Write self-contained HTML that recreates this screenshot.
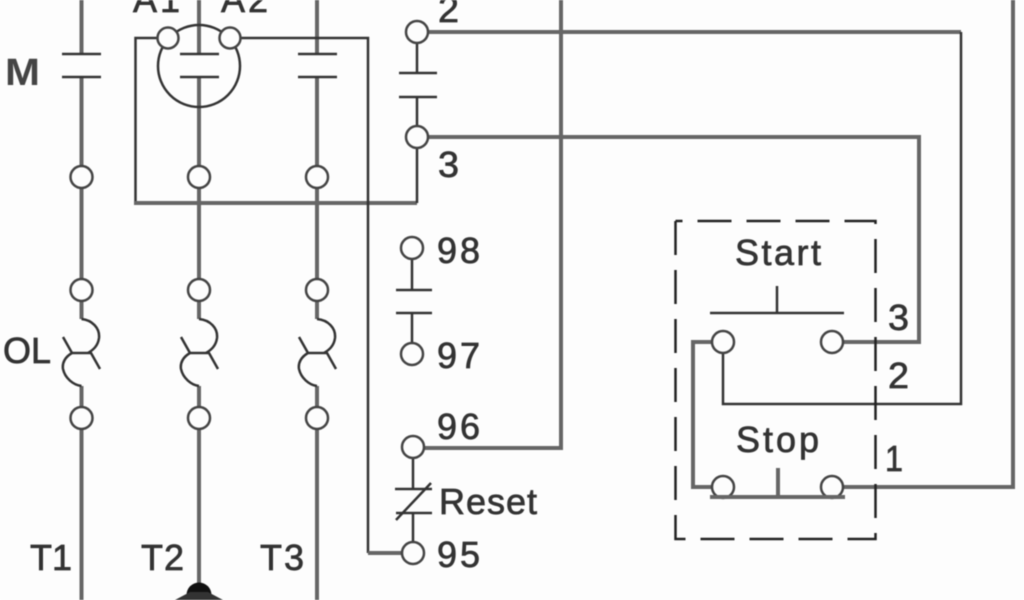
<!DOCTYPE html>
<html><head><meta charset="utf-8"><style>
html,body{margin:0;padding:0;background:#fdfdfd;width:1024px;height:600px;overflow:hidden}
svg{display:block;filter:blur(.45px)}
text{font-family:"Liberation Sans",sans-serif;font-size:36px;fill:#333;stroke:#333;stroke-width:.7}
.n{fill:none;stroke:#666;stroke-width:4}
.t{fill:none;stroke:#333;stroke-width:2.5}
.c{fill:#fdfdfd;stroke:#444;stroke-width:2.5}
</style></head><body>
<svg width="1024" height="600" viewBox="0 0 1024 600" xmlns="http://www.w3.org/2000/svg">
<rect width="1024" height="600" fill="#fdfdfd"/>
<!-- verticals -->
<path class="n" d="M81.5 0V54M81.5 77V319M81.5 386V600M199 0V54M199 77V319M199 386V585M317 0V54M317 77V319M317 386V600"/>
<!-- contactor box -->
<path class="t" d="M157 38H135.500V203"/>
<path class="n" d="M134 203H417"/>
<path class="t" d="M417 203V137"/>
<path class="t" d="M241 38H368V553"/>
<path class="n" d="M368 553H413"/>
<path class="n" d="M417 32H961"/>
<path class="t" d="M961 32V404H723V342"/>
<path class="n" d="M417 137H919V342H832"/>
<path class="n" d="M561 0V448H413"/>
<path class="n" d="M723 342H693V487H723"/>
<path class="n" d="M832 487H1013V0"/>
<path class="t" d="M417 32V73M417 97V137"/>
<path class="t" d="M412 248V291M412 313V354M413 448V489M413 513V553"/>
<!-- contact bars -->
<path class="t" d="M62 54H101M62 77H101M180 54H219M180 77H219M298 54H337M298 77H337M399 73H437M399 97H437M396 290H432M396 313H432M395 489H432M396 513H432"/>
<path class="t" stroke-width="2" d="M396 520L431 483"/>
<circle cx="199" cy="66" r="41" fill="none" stroke="#333" stroke-width="2.500"/>
<!-- fuses -->
<path class="t" d="M81.500 319C92 320 100 328 99 338C98 346 93 350 88 353M63 337L72 353H91L100 369M72 353C65 357 62 363 63 369C65 378 73 385 81.500 386"/>
<path class="t" d="M199 319C210 320 218 328 217 338C216 346 211 350 206 353M181 337L190 353H209L218 369M190 353C183 357 180 363 181 369C183 378 191 385 199 386"/>
<path class="t" d="M317 319C328 320 336 328 335 338C334 346 329 350 324 353M299 337L308 353H327L336 369M308 353C301 357 298 363 299 369C301 378 309 385 317 386"/>
<!-- circles -->
<circle class="c" cx="168" cy="38" r="10.500"/><circle class="c" cx="230" cy="38" r="10.500"/>
<circle class="c" cx="81.500" cy="177" r="11"/><circle class="c" cx="199" cy="177" r="11"/><circle class="c" cx="317" cy="177" r="11"/>
<circle class="c" cx="81.500" cy="290" r="11"/><circle class="c" cx="199" cy="290" r="11"/><circle class="c" cx="317" cy="290" r="11"/>
<circle class="c" cx="81.500" cy="418" r="11"/><circle class="c" cx="199" cy="418" r="11"/><circle class="c" cx="317" cy="418" r="11"/>
<circle class="c" cx="417" cy="32" r="11"/><circle class="c" cx="417" cy="137" r="11"/>
<circle class="c" cx="412" cy="248" r="11"/><circle class="c" cx="412" cy="354" r="11"/>
<circle class="c" cx="413" cy="447" r="11"/><circle class="c" cx="413" cy="553" r="11"/>
<circle class="c" cx="723" cy="342" r="11"/><circle class="c" cx="832" cy="342" r="11"/>
<circle class="c" cx="723" cy="487" r="11"/><circle class="c" cx="832" cy="487" r="11"/>
<!-- start / stop -->
<path class="t" d="M710 313H844M777 286V313"/>
<path d="M710 497H845M778 468V497" fill="none" stroke="#666" stroke-width="4"/>
<!-- dashed box -->
<path d="M675.500 221V539H875.500V221H675.500" fill="none" stroke="#222" stroke-width="2.500" stroke-dasharray="34 15"/>
<!-- blob -->
<circle cx="199" cy="595" r="12.500" fill="#111"/>
<path d="M175 600L190 592H208L223 600Z" fill="#333"/>
<!-- labels -->
<text x="5" y="85" font-weight="bold" textLength="35" lengthAdjust="spacingAndGlyphs" style="font-size:38px;fill:#444;stroke:none">M</text>
<text x="133" y="12" textLength="47" lengthAdjust="spacing">A1</text>
<text x="221" y="12" textLength="47" lengthAdjust="spacing">A2</text>
<text x="438" y="22" textLength="21" lengthAdjust="spacingAndGlyphs">2</text>
<text x="438" y="177" textLength="21" lengthAdjust="spacingAndGlyphs">3</text>
<text x="437" y="263" textLength="43" lengthAdjust="spacing">98</text>
<text x="437" y="368" textLength="43" lengthAdjust="spacing">97</text>
<text x="437" y="439" textLength="43" lengthAdjust="spacing">96</text>
<text x="437" y="567" textLength="43" lengthAdjust="spacing">95</text>
<text x="439" y="514" textLength="98" lengthAdjust="spacing">Reset</text>
<text x="3" y="363" textLength="48" lengthAdjust="spacingAndGlyphs">OL</text>
<text x="30" y="570" textLength="42" lengthAdjust="spacing">T1</text>
<text x="141" y="570" textLength="43" lengthAdjust="spacing">T2</text>
<text x="260" y="570" textLength="44" lengthAdjust="spacing">T3</text>
<text x="735" y="265" textLength="86" lengthAdjust="spacing">Start</text>
<text x="736" y="452" textLength="83" lengthAdjust="spacing">Stop</text>
<text x="888" y="330" textLength="21" lengthAdjust="spacingAndGlyphs">3</text>
<text x="888" y="388" textLength="21" lengthAdjust="spacingAndGlyphs">2</text>
<text x="885" y="471" textLength="18" lengthAdjust="spacingAndGlyphs">1</text>
</svg>
</body></html>
